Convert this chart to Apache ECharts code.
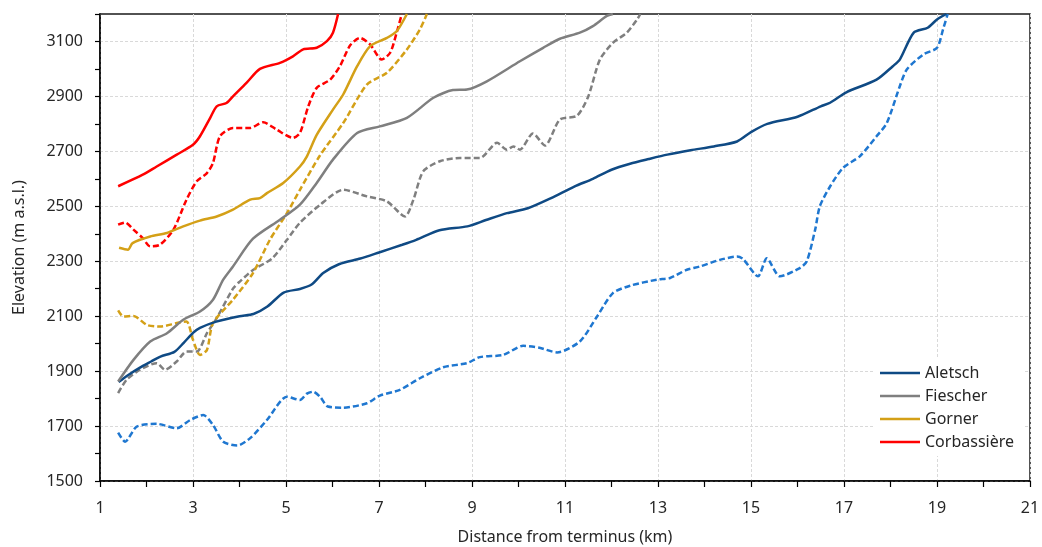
<!DOCTYPE html>
<html>
<head>
<meta charset="utf-8">
<script src="https://cdn.jsdelivr.net/npm/echarts@6/dist/echarts.min.js"></script>
<style>
  html, body { margin: 0; padding: 0; background: #ffffff; }
  #chart { width: 1042px; height: 547px; }
</style>
</head>
<body>
<div id="chart"></div>
<script>
// [distance from terminus (km), elevation (m a.s.l.)]
const aletsch = [[1.4,1860],[1.6,1885],[1.85,1912],[2.1,1935],[2.3,1953],[2.6,1970],[2.8,2003],[3.0,2039],[3.15,2057],[3.5,2080],[4.0,2100],[4.3,2108],[4.6,2135],[4.95,2186],[5.3,2199],[5.55,2215],[5.8,2257],[6.15,2290],[6.6,2310],[7.0,2332],[7.5,2360],[7.8,2378],[8.3,2413],[8.9,2427],[9.3,2450],[9.75,2475],[10.2,2493],[10.7,2530],[11.2,2572],[11.6,2600],[12.0,2633],[12.4,2655],[12.8,2672],[13.2,2688],[13.7,2704],[14.2,2718],[14.7,2736],[15.0,2770],[15.35,2800],[16.0,2826],[16.5,2864],[16.7,2877],[17.05,2915],[17.7,2961],[18.05,3010],[18.2,3034],[18.5,3132],[18.8,3150],[19.0,3180],[19.2,3200]];
const aletschDashed = [[1.39,1676],[1.54,1643],[1.79,1698],[2.22,1708],[2.65,1692],[2.94,1722],[3.22,1740],[3.43,1704],[3.65,1643],[3.95,1629],[4.23,1656],[4.59,1722],[5.02,1807],[5.3,1795],[5.45,1818],[5.58,1825],[5.73,1807],[5.9,1771],[6.23,1767],[6.74,1783],[7.02,1811],[7.45,1832],[7.88,1874],[8.38,1914],[8.89,1929],[9.17,1951],[9.67,1959],[10.1,1992],[10.45,1985],[10.83,1968],[11.32,2008],[11.69,2099],[12.03,2184],[12.4,2211],[12.98,2233],[13.26,2239],[13.62,2269],[13.9,2281],[14.33,2305],[14.7,2317],[14.83,2308],[15.15,2245],[15.34,2311],[15.62,2245],[16.05,2275],[16.2,2300],[16.38,2415],[16.48,2500],[16.7,2572],[16.98,2640],[17.34,2682],[17.7,2755],[17.92,2803],[18.2,2937],[18.35,2998],[18.7,3052],[19.0,3077],[19.13,3144],[19.23,3200]];
const fiescher = [[1.39,1862],[1.72,1941],[2.08,2008],[2.44,2038],[2.79,2087],[3.15,2117],[3.43,2160],[3.65,2233],[3.86,2281],[4.29,2382],[4.87,2451],[5.3,2506],[5.66,2585],[6.01,2670],[6.53,2767],[7.02,2791],[7.6,2822],[8.17,2895],[8.59,2923],[8.89,2925],[9.32,2955],[10.03,3028],[10.53,3077],[10.89,3110],[11.32,3132],[11.6,3156],[11.9,3193],[12.03,3200]];
const fiescherDashed = [[1.39,1820],[1.57,1868],[1.86,1905],[2.22,1929],[2.4,1905],[2.65,1935],[2.86,1971],[3.08,1971],[3.3,2038],[3.51,2093],[3.86,2200],[4.0,2225],[4.29,2268],[4.7,2310],[5.02,2378],[5.3,2440],[5.73,2505],[6.23,2560],[6.74,2536],[7.17,2518],[7.56,2463],[7.74,2524],[7.95,2627],[8.31,2664],[8.74,2676],[9.17,2676],[9.54,2731],[9.75,2706],[9.89,2718],[10.03,2706],[10.31,2765],[10.57,2721],[10.89,2816],[11.26,2830],[11.5,2900],[11.75,3034],[12.03,3095],[12.33,3132],[12.55,3180],[12.62,3200]];
const gorner = [[1.41,2349],[1.6,2342],[1.7,2366],[2.08,2390],[2.44,2403],[2.79,2427],[3.15,2448],[3.51,2463],[3.86,2488],[4.23,2524],[4.44,2530],[4.59,2548],[4.94,2585],[5.3,2645],[5.45,2682],[5.66,2760],[6.01,2852],[6.23,2907],[6.53,3010],[6.81,3083],[7.17,3113],[7.38,3137],[7.6,3200]];
const gornerDashed = [[1.39,2121],[1.5,2099],[1.72,2101],[2.01,2068],[2.29,2062],[2.65,2075],[2.86,2081],[3.0,2014],[3.15,1959],[3.3,1977],[3.43,2075],[3.86,2160],[4.29,2257],[4.66,2380],[5.02,2475],[5.3,2560],[5.73,2685],[6.23,2803],[6.74,2943],[7.17,2986],[7.6,3071],[7.88,3144],[8.03,3200]];
const corbassiere = [[1.39,2573],[1.92,2615],[2.22,2645],[2.65,2688],[3.0,2724],[3.15,2755],[3.37,2822],[3.51,2864],[3.72,2876],[3.86,2900],[4.15,2949],[4.44,3000],[4.87,3022],[5.15,3046],[5.37,3071],[5.66,3077],[5.88,3101],[6.01,3132],[6.12,3200]];
const corbassiereDashed = [[1.39,2433],[1.54,2441],[1.72,2415],[1.92,2384],[2.08,2354],[2.29,2360],[2.58,2415],[2.86,2524],[3.08,2591],[3.3,2621],[3.43,2658],[3.58,2755],[3.86,2785],[4.23,2785],[4.51,2806],[4.8,2779],[5.15,2749],[5.3,2767],[5.48,2864],[5.66,2931],[5.95,2961],[6.16,3010],[6.38,3086],[6.59,3113],[6.81,3089],[7.06,3034],[7.24,3059],[7.38,3132],[7.49,3200]];

const legendNames = ['Aletsch', 'Fiescher', 'Gorner', 'Corbassière'];

const chart = echarts.init(document.getElementById('chart'));
const font = 'Noto Sans';
const textColor = '#262626';
// grid lines only on every second tick (odd km, odd hundreds of metres)
const gridColor = ['#d9d9d9', 'rgba(0,0,0,0)'];

function line(name, data, color, dashed) {
  return {
    name: name,
    type: 'line',
    data: data,
    showSymbol: false,
    smooth: 0.25,
    lineStyle: { color: color, width: 2.5, type: dashed ? [6, 3] : 'solid' },
    itemStyle: { color: color },
  };
}

chart.setOption({
  animation: false,
  textStyle: { fontFamily: font },
  grid: {
    left: 100, right: 12, top: 14, bottom: 66,
    show: true, borderColor: '#1a1a1a', borderWidth: 1.5,
    outerBoundsMode: 'none',
  },
  legend: {
    data: legendNames,
    orient: 'vertical',
    left: 875, top: 359,
    padding: [5, 10, 5, 5],
    backgroundColor: '#ffffff',
    icon: 'rect',
    itemWidth: 40, itemHeight: 2.5,
    itemGap: 5,
    textStyle: { fontSize: 16, color: textColor, lineHeight: 18, fontFamily: font },
  },
  xAxis: {
    type: 'value',
    min: 1, max: 21, interval: 1,
    name: 'Distance from terminus (km)',
    nameLocation: 'middle', nameGap: 48,
    nameTextStyle: { fontSize: 16, color: textColor },
    axisLine: { lineStyle: { color: '#000', width: 1.5 } },
    axisTick: { length: 6, lineStyle: { color: '#000', width: 1.2 } },
    axisLabel: {
      fontSize: 16, color: textColor, margin: 19,
      formatter: v => (v % 2 === 1 ? String(v) : ''),
    },
    splitLine: { show: true, lineStyle: { color: gridColor, type: [3, 2], width: 1 } },
  },
  yAxis: {
    type: 'value',
    min: 1500, max: 3200, interval: 100,
    name: 'Elevation (m a.s.l.)',
    nameLocation: 'middle', nameGap: 73,
    nameTextStyle: { fontSize: 16, color: textColor },
    axisLine: { show: true, lineStyle: { color: '#000', width: 1.5 } },
    axisTick: { show: true, length: 5, lineStyle: { color: '#000', width: 1.2 } },
    axisLabel: {
      fontSize: 16, color: textColor, margin: 17,
      formatter: v => ((v - 1500) % 200 === 0 && v < 3200 ? String(v) : ''),
    },
    splitLine: { show: true, lineStyle: { color: gridColor, type: [3, 2], width: 1 } },
  },
  series: [
    line('Aletsch dashed', aletschDashed, '#1f77d0', true),
    line('Fiescher dashed', fiescherDashed, '#7f7f7f', true),
    line('Gorner dashed', gornerDashed, '#d4a017', true),
    line('Corbassière dashed', corbassiereDashed, '#ff0000', true),
    line('Aletsch', aletsch, '#0f4a84', false),
    line('Fiescher', fiescher, '#7f7f7f', false),
    line('Gorner', gorner, '#d4a017', false),
    line('Corbassière', corbassiere, '#ff0000', false),
  ],
});

window.addEventListener('resize', () => chart.resize());
</script>
</body>
</html>
